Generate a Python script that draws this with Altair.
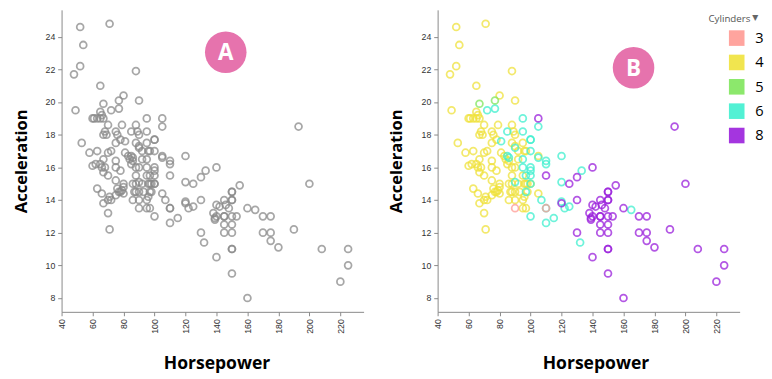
import altair as alt
import pandas as pd

# ---- data (Horsepower, Acceleration by cylinders) ----
hp_4 = [52, 71, 54, 52, 48, 88, 65, 49, 80, 90,
        60, 61, 63, 65, 67, 65, 66, 70, 67, 68,
        69, 53, 58, 63, 60, 65, 67, 68, 67, 66,
        70, 70, 72, 63, 66, 67, 70, 71, 70, 71,
        72, 75, 76, 78, 80, 79, 77, 75, 75, 75,
        78, 80, 80, 75, 76, 75, 79, 78, 81, 84,
        86, 85, 83, 88, 90, 89, 88, 90, 92, 95,
        97, 88, 90, 92, 88, 88, 86, 95, 97, 98,
        96, 98, 87, 88, 90, 93, 86, 90, 95, 96,
        97, 95, 105, 100, 92, 105, 96, 62]
acc_4 = [24.6, 24.8, 23.5, 22.2, 21.7, 21.9, 21.0, 19.5, 20.4, 20.1,
         19.0, 19.0, 19.0, 19.0, 19.0, 19.4, 19.2, 18.6, 18.0, 18.2,
         18.0, 17.5, 16.9, 17.0, 16.1, 16.2, 16.5, 16.0, 15.7, 16.0,
         15.5, 16.9, 17.0, 14.7, 14.4, 13.8, 13.2, 12.2, 14.0, 14.2,
         14.0, 14.3, 14.7, 14.5, 14.4, 14.6, 14.5, 15.2, 16.0, 16.4,
         15.8, 15.0, 14.8, 17.5, 18.0, 18.2, 18.6, 17.7, 16.9, 16.5,
         16.4, 16.2, 16.7, 18.6, 18.0, 18.2, 17.5, 17.3, 17.0, 17.5,
         17.0, 16.0, 16.0, 16.5, 15.5, 15.0, 15.0, 15.5, 15.0, 15.0,
         15.0, 14.5, 14.5, 14.5, 14.5, 14.5, 14.0, 14.0, 14.0, 14.2,
         13.5, 13.5, 14.4, 15.0, 15.0, 16.7, 17.0, 16.2]

hp_6 = [72, 77, 95, 105, 85, 95, 81, 100, 100, 90,
        100, 85, 86, 95, 105, 110, 110, 120, 133, 120,
        100, 97, 90, 100, 97, 107, 100, 110, 115, 120,
        122, 125, 132, 165, 110, 95, 100, 100]
acc_6 = [19.5, 19.6, 19.0, 18.5, 18.2, 18.2, 17.6, 17.7, 17.7, 17.2,
         17.0, 16.7, 16.6, 16.5, 16.6, 16.4, 16.2, 16.7, 15.8, 15.1,
         15.5, 15.5, 15.1, 15.0, 14.5, 14.0, 13.0, 12.6, 12.9, 13.9,
         13.5, 13.6, 11.4, 13.4, 13.5, 16.0, 16.0, 15.8]

hp_8 = [105, 110, 125, 130, 140, 130, 130, 140, 120, 138,
        139, 140, 140, 145, 146, 145, 145, 145, 145, 148,
        150, 150, 150, 150, 150, 150, 150, 150, 150, 150,
        153, 155, 160, 160, 170, 175, 170, 175, 175, 180,
        190, 193, 200, 208, 220, 225, 225, 142, 139]
acc_8 = [19.0, 15.5, 15.0, 15.4, 16.0, 14.0, 12.0, 10.5, 13.8, 13.2,
         12.9, 13.0, 13.7, 14.0, 13.7, 13.0, 13.0, 12.5, 12.0, 13.5,
         14.5, 14.5, 14.0, 14.0, 13.0, 12.5, 12.0, 11.0, 11.0, 9.5,
         13.0, 14.9, 13.5, 8.0, 13.0, 13.0, 12.0, 12.0, 11.5, 11.1,
         12.2, 18.5, 15.0, 11.0, 9.0, 11.0, 10.0, 13.6, 12.8]

hp_5 = [67, 77]
acc_5 = [19.9, 20.1]

hp_3 = [90, 110]
acc_3 = [13.5, 13.5]

cyl_levels = ["3", "4", "5", "6", "8"]
cyl_colors = ["#ff9a94", "#f0e23c", "#7fe65c", "#3ff0cf", "#9a1fdc"]

x_ticks = [40, 60, 80, 100, 120, 140, 160, 180, 200, 220]
y_ticks = [8, 10, 12, 14, 16, 18, 20, 22, 24]

badge_a_label = ["A"]
badge_a_hp = [146]
badge_a_acc = [23.05]
badge_b_label = ["B"]
badge_b_hp = [166.5]
badge_b_acc = [22.1]

legend_title = ["Cylinders"]
legend_arrow = ["▼"]

# ---- tables ----
frames = []
for c, h, a in [("4", hp_4, acc_4), ("6", hp_6, acc_6), ("8", hp_8, acc_8),
                ("5", hp_5, acc_5), ("3", hp_3, acc_3)]:
    frames.append(pd.DataFrame({"Horsepower": h, "Acceleration": a, "Cylinders": c}))
df = pd.concat(frames, ignore_index=True)

badge_a = pd.DataFrame({"Horsepower": badge_a_hp, "Acceleration": badge_a_acc, "label": badge_a_label})
badge_b = pd.DataFrame({"Horsepower": badge_b_hp, "Acceleration": badge_b_acc, "label": badge_b_label})

xscale = alt.Scale(domain=[40, 235], nice=False, zero=False)
yscale = alt.Scale(domain=[7.15, 25.65], nice=False, zero=False)

TITLE_FONT = "Open Sans"
LABEL_FONT = "Liberation Sans"


def x_axis(tx):
    return alt.Axis(values=x_ticks, labelAngle=-90, labelFont=LABEL_FONT, labelFontSize=9,
                    labelColor="#333", labelPadding=3, tickSize=4, tickColor="#888",
                    domainColor="#888", grid=False, title="Horsepower", titleFont=TITLE_FONT,
                    titleFontSize=18, titleFontWeight="bold", titleColor="#000",
                    titlePadding=22, titleX=tx, labelOverlap=False, labelFlush=False)


def y_axis(tp):
    return alt.Axis(values=y_ticks, labelFont=LABEL_FONT, labelFontSize=9,
                    labelColor="#333", labelPadding=3, tickSize=4, tickColor="#888",
                    domainColor="#888", grid=False, title="Acceleration", titleFont=TITLE_FONT,
                    titleFontSize=17, titleFontWeight="bold", titleColor="#000",
                    titlePadding=tp, labelOverlap=False, labelFlush=False)


def enc_xy(tp, tx):
    return dict(x=alt.X("Horsepower:Q", scale=xscale, axis=x_axis(tx)),
                y=alt.Y("Acceleration:Q", scale=yscale, axis=y_axis(tp)))


def badge(data, tp, tx):
    circ = alt.Chart(data).mark_circle(size=1820, color="#e673ad", opacity=1).encode(**enc_xy(tp, tx))
    txt = alt.Chart(data).mark_text(font=TITLE_FONT, fontSize=23, fontWeight="bold",
                                    color="white", align="center", baseline="middle", dy=1).encode(
        text="label:N", **enc_xy(tp, tx))
    return circ + txt


LEFT_TP, LEFT_TX = 15, 159
RIGHT_TP, RIGHT_TX = 16, 162

left_pts = alt.Chart(df).mark_point(filled=False, size=50, strokeWidth=1.8,
                                    color="#8a8a8a", opacity=0.75).encode(**enc_xy(LEFT_TP, LEFT_TX))
left = alt.layer(left_pts, badge(badge_a, LEFT_TP, LEFT_TX)).properties(width=310, height=310)

color_enc = alt.Color("Cylinders:N",
                      scale=alt.Scale(domain=cyl_levels, range=cyl_colors),
                      legend=alt.Legend(title=None, orient="none", legendX=685, legendY=21,
                                        symbolType="square", symbolSize=256, symbolStrokeWidth=0,
                                        symbolOpacity=0.9,
                                        labelFont=TITLE_FONT, labelFontSize=15, labelColor="#000",
                                        labelOffset=11, rowPadding=9))

# filled (empty) layer first so that the legend shows filled swatches
legend_layer = alt.Chart(df).transform_filter("false").mark_square(filled=True, opacity=0.9).encode(
    color=color_enc, **enc_xy(RIGHT_TP, RIGHT_TX))

right_pts = alt.Chart(df).mark_point(filled=False, size=50, strokeWidth=1.8, opacity=0.75).encode(
    color=color_enc, **enc_xy(RIGHT_TP, RIGHT_TX))

cyl_title = alt.Chart(pd.DataFrame({"t": legend_title})).mark_text(
    font=TITLE_FONT, fontSize=10, color="#555", align="left", baseline="middle").encode(
    text="t:N", x=alt.value(278), y=alt.value(9.5))
cyl_arrow = alt.Chart(pd.DataFrame({"t": legend_arrow})).mark_text(
    font="DejaVu Sans", fontSize=8, color="#666", align="left", baseline="middle").encode(
    text="t:N", x=alt.value(323), y=alt.value(8.5))

right = alt.layer(legend_layer, right_pts, badge(badge_b, RIGHT_TP, RIGHT_TX), cyl_title, cyl_arrow).properties(
    width=310, height=310)

chart = alt.hconcat(left, right, spacing=24).properties(
    padding={"left": 4, "top": -3, "right": 0, "bottom": 0}
).configure_view(stroke=None).configure_axis(labelOverlap=False)

chart.save("out.html", embed_options={"renderer": "svg", "actions": False})
